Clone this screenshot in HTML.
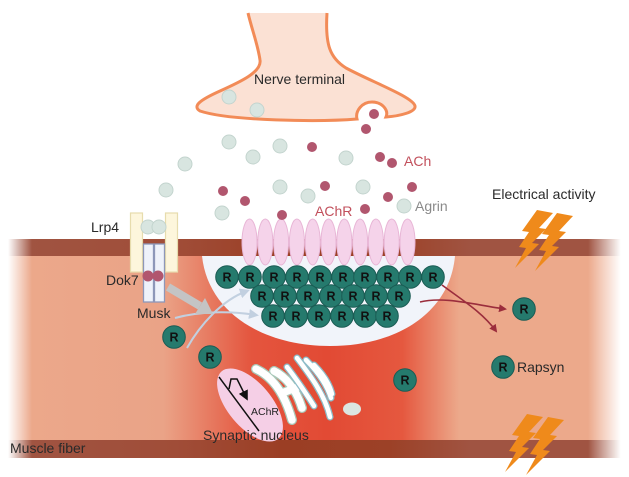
<!DOCTYPE html>
<html><head><meta charset="utf-8"><style>
html,body{margin:0;padding:0;background:#fff;}
svg{display:block;}
text{font-family:"Liberation Sans",Arial,sans-serif;}
</style></head><body>
<svg width="629" height="477" viewBox="0 0 629 477" xmlns="http://www.w3.org/2000/svg">
<defs>
<linearGradient id="body" x1="0" y1="0" x2="629" y2="0" gradientUnits="userSpaceOnUse">
<stop offset="0" stop-color="#eca98b"/>
<stop offset="0.26" stop-color="#eaa387"/>
<stop offset="0.40" stop-color="#e4553e"/>
<stop offset="0.52" stop-color="#e24a34"/>
<stop offset="0.64" stop-color="#e5583f"/>
<stop offset="0.73" stop-color="#eca98b"/>
<stop offset="1" stop-color="#eca98b"/>
</linearGradient>
<linearGradient id="band" x1="0" y1="0" x2="629" y2="0" gradientUnits="userSpaceOnUse">
<stop offset="0" stop-color="#a05543"/>
<stop offset="0.28" stop-color="#a04d38"/>
<stop offset="0.45" stop-color="#9b3e24"/>
<stop offset="0.62" stop-color="#9c4127"/>
<stop offset="0.75" stop-color="#a05442"/>
<stop offset="1" stop-color="#a05442"/>
</linearGradient>
<linearGradient id="fadeL" x1="0" y1="0" x2="1" y2="0">
<stop offset="0" stop-color="#fff" stop-opacity="1"/>
<stop offset="0.25" stop-color="#fff" stop-opacity="1"/>
<stop offset="1" stop-color="#fff" stop-opacity="0"/>
</linearGradient>
<linearGradient id="fadeR" x1="0" y1="0" x2="1" y2="0">
<stop offset="0" stop-color="#fff" stop-opacity="0"/>
<stop offset="0.8" stop-color="#fff" stop-opacity="1"/>
<stop offset="1" stop-color="#fff" stop-opacity="1"/>
</linearGradient>
<marker id="mRed" markerWidth="8" markerHeight="8" refX="6" refY="4" orient="auto" markerUnits="userSpaceOnUse">
<path d="M0,0 L8,4 L0,8 Z" fill="#9b2d3c"/>
</marker>
<marker id="mBlue" markerWidth="10" markerHeight="10" refX="7" refY="5" orient="auto" markerUnits="userSpaceOnUse">
<path d="M0,0 L10,5 L0,10 Z" fill="#c2d0e0"/>
</marker>
<marker id="mBlk" markerWidth="10" markerHeight="10" refX="6" refY="5" orient="auto" markerUnits="userSpaceOnUse">
<path d="M0,0 L10,5 L0,10 Z" fill="#111"/>
</marker>
<path id="bolt" d="M22,0 L38,3 L24,18 L31,19 L17,33 L24,34 L0,58 L11,38 L4,37 L14,22 L7,21 Z" fill="#ef8a1b"/>
<g id="R"><circle r="11.3" fill="#257a6d" stroke="#1b5c54" stroke-width="1"/><text y="4.5" text-anchor="middle" font-size="12.5" font-weight="bold" fill="#111">R</text></g>
</defs>

<!-- muscle fiber -->
<rect x="0" y="239" width="629" height="219" fill="url(#body)"/>
<rect x="0" y="239" width="629" height="17" fill="url(#band)"/>
<rect x="0" y="440" width="629" height="18" fill="url(#band)"/>

<!-- synaptic pocket -->
<path d="M202,256 C208,312 262,346 330,346 C398,346 450,312 455,256 Z" fill="#f1f4fa"/>

<!-- nucleus -->
<ellipse cx="250" cy="405" rx="44" ry="22" transform="rotate(50 250 405)" fill="#f5cfe6"/>
<path d="M219,377 L259,431" stroke="#111" stroke-width="1.5" fill="none"/>
<path d="M229,389 L231,379 L237,379 L246,397" stroke="#111" stroke-width="1.5" fill="none" marker-end="url(#mBlk)"/>
<text x="251" y="415" font-size="10.5" fill="#222">AChR</text>

<!-- golgi -->
<g fill="none" stroke-linecap="round">
<g stroke="#a9c8b8" stroke-width="10">
<path d="M256,369 C271,376 284,391 292,420"/>
<path d="M274,371 C288,378 297,392 302,408"/>
<path d="M282,393 L298,387"/>
</g>
<g stroke="#fff" stroke-width="7.5">
<path d="M256,369 C271,376 284,391 292,420"/>
<path d="M274,371 C288,378 297,392 302,408"/>
<path d="M282,393 L298,387"/>
</g>
<g stroke="#8dbcc8" stroke-width="7">
<path d="M287,367 C297,380 307,395 314,406"/>
<path d="M297,358 C310,375 325,395 330,417"/>
<path d="M306,360 C318,372 327,385 331,398"/>
<path d="M314,365 C322,373 329,382 332,394"/>
</g>
<g stroke="#fff" stroke-width="4.5">
<path d="M287,367 C297,380 307,395 314,406"/>
<path d="M297,358 C310,375 325,395 330,417"/>
<path d="M306,360 C318,372 327,385 331,398"/>
<path d="M314,365 C322,373 329,382 332,394"/>
</g>
</g>
<ellipse cx="352" cy="409" rx="9" ry="6.5" fill="#dbe6e2"/>

<!-- receptors -->
<g fill="#f5d3ea" stroke="#e8b6d6" stroke-width="1">
<ellipse cx="249.5" cy="242" rx="7.5" ry="23"/>
<ellipse cx="265.3" cy="242" rx="7.5" ry="23"/>
<ellipse cx="281.1" cy="242" rx="7.5" ry="23"/>
<ellipse cx="296.9" cy="242" rx="7.5" ry="23"/>
<ellipse cx="312.7" cy="242" rx="7.5" ry="23"/>
<ellipse cx="328.5" cy="242" rx="7.5" ry="23"/>
<ellipse cx="344.3" cy="242" rx="7.5" ry="23"/>
<ellipse cx="360.1" cy="242" rx="7.5" ry="23"/>
<ellipse cx="375.9" cy="242" rx="7.5" ry="23"/>
<ellipse cx="391.7" cy="242" rx="7.5" ry="23"/>
<ellipse cx="407.5" cy="242" rx="7.5" ry="23"/>
</g>

<!-- arrows -->
<path d="M420,302 C445,296 475,305 505,309" stroke="#9b2d3c" stroke-width="1.6" fill="none" marker-end="url(#mRed)"/>
<path d="M442,285 C462,300 482,312 496,331" stroke="#9b2d3c" stroke-width="1.6" fill="none" marker-end="url(#mRed)"/>
<path d="M175,318 C200,311 230,311 256,315" stroke="#c2d0e0" stroke-width="2" fill="none" marker-end="url(#mBlue)"/>
<path d="M187,348 C200,325 222,300 247,291" stroke="#c2d0e0" stroke-width="2" fill="none" marker-end="url(#mBlue)"/>
<line x1="168" y1="287" x2="200" y2="306" stroke="#c4c4c4" stroke-width="8"/>
<polygon points="213,314 205,298 195,314" fill="#c4c4c4"/>

<!-- R clusters -->
<use href="#R" x="227" y="277"/><use href="#R" x="250" y="277"/><use href="#R" x="274" y="277"/><use href="#R" x="297" y="277"/><use href="#R" x="320" y="277"/><use href="#R" x="343" y="277"/><use href="#R" x="365" y="277"/><use href="#R" x="388" y="277"/><use href="#R" x="410" y="277"/><use href="#R" x="433" y="277"/>
<use href="#R" x="262" y="296"/><use href="#R" x="285" y="296"/><use href="#R" x="308" y="296"/><use href="#R" x="331" y="296"/><use href="#R" x="353" y="296"/><use href="#R" x="376" y="296"/><use href="#R" x="399" y="296"/>
<use href="#R" x="273" y="316"/><use href="#R" x="296" y="316"/><use href="#R" x="319" y="316"/><use href="#R" x="342" y="316"/><use href="#R" x="365" y="316"/><use href="#R" x="387" y="316"/>
<use href="#R" x="174" y="337"/><use href="#R" x="210" y="357"/><use href="#R" x="405" y="380"/><use href="#R" x="524" y="309"/><use href="#R" x="503" y="367"/>

<!-- Lrp4 / Musk -->
<rect x="130.5" y="213" width="12" height="59" fill="#fdf6dc" stroke="#e7dcad" stroke-width="1.2"/>
<rect x="165.5" y="213" width="12" height="59" fill="#fdf6dc" stroke="#e7dcad" stroke-width="1.2"/>
<rect x="143.5" y="244" width="10" height="58" fill="#eef2fa" stroke="#8d97b9" stroke-width="1.3"/>
<rect x="154.5" y="244" width="10" height="58" fill="#eef2fa" stroke="#8d97b9" stroke-width="1.3"/>
<circle cx="148" cy="276" r="5.5" fill="#b1566e"/><circle cx="158" cy="276" r="5.5" fill="#b1566e"/>
<circle cx="148" cy="227" r="7" fill="#d8e5e0" stroke="#c3d4ce"/><circle cx="159" cy="227" r="7" fill="#d8e5e0" stroke="#c3d4ce"/>

<!-- edge fades -->
<rect x="0" y="236" width="32" height="225" fill="url(#fadeL)"/>
<rect x="588" y="236" width="41" height="225" fill="url(#fadeR)"/>

<!-- nerve terminal -->
<path d="M248,13 C252,30 258,45 260,60 C262,72 240,82 220,91 C200,100 192,106 200,111 C230,121 320,122 357,119 C355,111 362,102 372,102 C382,102 389,110 386,117 C400,116 416,112 415,106 C413,97 372,82 346,68 C330,58 325,45 327,13 Z" fill="#fbe1d4"/>
<path d="M248,13 C252,30 258,45 260,60 C262,72 240,82 220,91 C200,100 192,106 200,111 C230,121 320,122 357,119 C355,111 362,102 372,102 C382,102 389,110 386,117 C400,116 416,112 415,106 C413,97 372,82 346,68 C330,58 325,45 327,13" fill="none" stroke="#f28b57" stroke-width="3"/>

<!-- vesicles -->
<g fill="#d8e5e0" stroke="#c3d4ce" stroke-width="1">
<circle cx="229" cy="97" r="7"/><circle cx="257" cy="110" r="7"/>
<circle cx="229" cy="142" r="7"/><circle cx="253" cy="157" r="7"/><circle cx="280" cy="146" r="7"/><circle cx="185" cy="164" r="7"/>
<circle cx="346" cy="158" r="7"/><circle cx="166" cy="190" r="7"/><circle cx="280" cy="187" r="7"/><circle cx="308" cy="196" r="7"/>
<circle cx="363" cy="187" r="7"/><circle cx="222" cy="213" r="7"/><circle cx="404" cy="206" r="7"/>
</g>
<g fill="#b1566e">
<circle cx="374" cy="114" r="5"/><circle cx="366" cy="129" r="5"/><circle cx="312" cy="147" r="5"/><circle cx="380" cy="157" r="5"/>
<circle cx="392" cy="163" r="5"/><circle cx="223" cy="191" r="5"/><circle cx="245" cy="201" r="5"/><circle cx="282" cy="215" r="5"/>
<circle cx="325" cy="186" r="5"/><circle cx="365" cy="209" r="5"/><circle cx="388" cy="197" r="5"/><circle cx="412" cy="187" r="5"/>
</g>

<!-- bolts -->
<use href="#bolt" transform="translate(515,210)"/>
<use href="#bolt" transform="translate(535,213)"/>
<use href="#bolt" transform="translate(505,414)"/>
<use href="#bolt" transform="translate(526,417)"/>

<!-- labels -->
<g font-size="14" fill="#2a2a2a">
<text x="254" y="84">Nerve terminal</text>
<text x="492" y="199">Electrical activity</text>
<text x="91" y="232">Lrp4</text>
<text x="106" y="285">Dok7</text>
<text x="137" y="318">Musk</text>
<text x="517" y="372">Rapsyn</text>
<text x="203" y="440">Synaptic nucleus</text>
<text x="10" y="453">Muscle fiber</text>
</g>
<text x="404" y="166" font-size="14" fill="#c2505c">ACh</text>
<text x="315" y="216" font-size="14" fill="#c2505c">AChR</text>
<text x="415" y="211" font-size="14" fill="#8a8a8a">Agrin</text>
</svg>
</body></html>
